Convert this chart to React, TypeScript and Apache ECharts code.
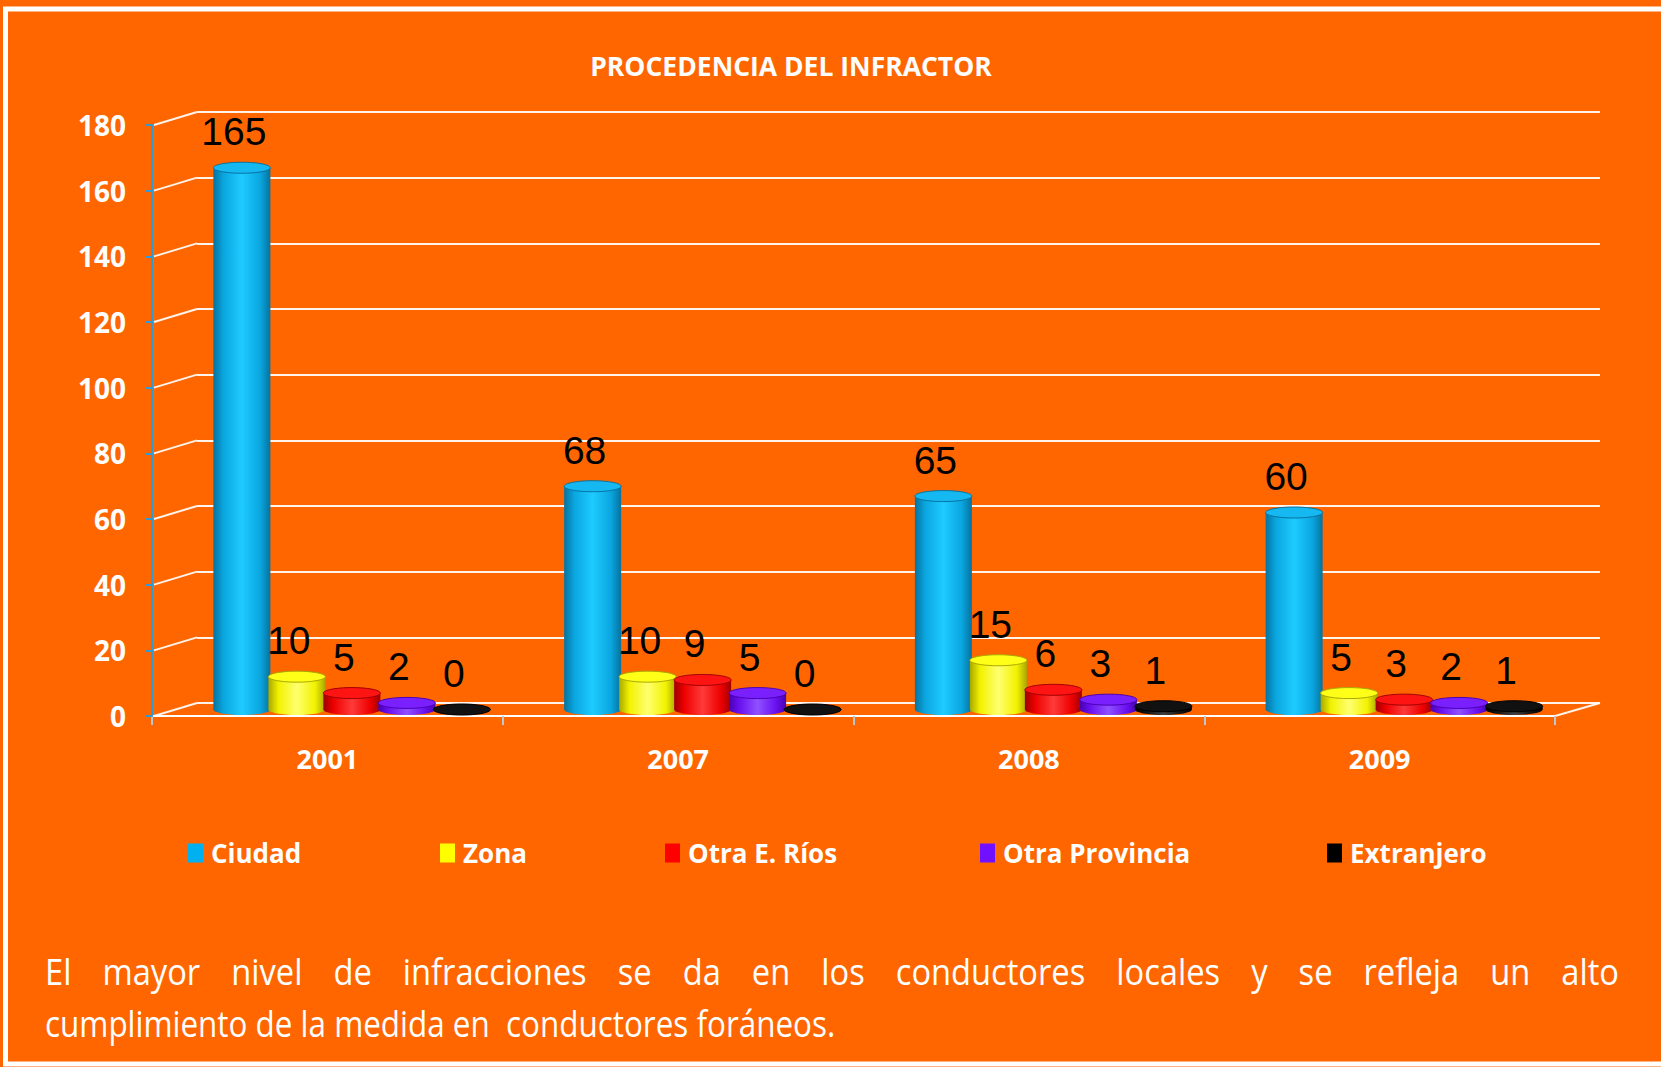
import React, { useEffect, useRef } from 'react';
import * as echarts from 'echarts';

const categories = ['2001', '2007', '2008', '2009'];
const seriesNames = ['Ciudad', 'Zona', 'Otra E. Ríos', 'Otra Provincia', 'Extranjero'];
const ciudad = [165, 68, 65, 60];
const zona = [10, 10, 15, 5];
const otraERios = [5, 9, 6, 3];
const otraProvincia = [2, 5, 3, 2];
const extranjero = [0, 0, 1, 1];
const yTicks = [0, 20, 40, 60, 80, 100, 120, 140, 160, 180];
const titleText = 'PROCEDENCIA DEL INFRACTOR';
const captionLine1 = 'El mayor nivel de infracciones se da en los conductores locales y se refleja un alto';
const captionLine2 = 'cumplimiento de la medida en  conductores foráneos.';

const palettes = [
  { base: '#00B0F0', dark: '#06729e', mid: '#0aa6e0', light: '#1ecbff', top: '#16b8f2' },
  { base: '#FFFF00', dark: '#a8a800', mid: '#f2f200', light: '#ffff70', top: '#ffff18' },
  { base: '#FF0000', dark: '#a00000', mid: '#ee0000', light: '#ff3a3a', top: '#ff1414' },
  { base: '#7010FF', dark: '#4a00b0', mid: '#6a10f0', light: '#9050ff', top: '#7a20ff' },
  { base: '#000000', dark: '#000000', mid: '#101010', light: '#404040', top: '#111111' },
];

const FRONT = { left: 152, top: 125, width: 1403, height: 591 };
const DX = 45;
const DY = -13;
const BAR_W = 57;
const STEP = 55;
const RY = 5.5;
const legendLeft = [188, 440, 665, 980, 1327];

export default function App() {
  const ref = useRef<HTMLDivElement>(null);
  useEffect(() => {
    if (!ref.current) return;
    const chart = echarts.init(ref.current, null, { renderer: 'svg' });
    const seriesValues = [ciudad, zona, otraERios, otraProvincia, extranjero];

    // caption layout via text measurement (narrowed font to mimic Calibri)
    const canvas = document.createElement('canvas');
    const ctx = canvas.getContext('2d')!;
    const capSize = 37;
    ctx.font = `${capSize}px "Open Sans"`;
    const w2 = ctx.measureText(captionLine2.replace(/\s+/g, ' ')).width;
    const sx = 782 / w2;
    const sx1 = sx * 1.04;
    const words = captionLine1.split(' ');
    const widths = words.map((w) => ctx.measureText(w).width * sx1);
    const sum = widths.reduce((a, b) => a + b, 0);
    const x0 = 45;
    const x1 = 1619;
    const gap = (x1 - x0 - sum) / (words.length - 1);
    const captionEls: any[] = [];
    let cx = x0;
    const capStyle = { fill: '#ffffff', fontSize: capSize, fontFamily: 'Open Sans', verticalAlign: 'middle', align: 'left' };
    words.forEach((w, i) => {
      captionEls.push({ type: 'text', x: cx, y: 971, scaleX: sx1, style: { text: w, ...capStyle } });
      cx += widths[i] + gap;
    });
    captionEls.push({ type: 'text', x: x0, y: 1022, scaleX: sx, style: { text: captionLine2, ...capStyle } });

    const grids = [
      { ...FRONT },
      { left: FRONT.left + DX, top: FRONT.top + DY, width: FRONT.width, height: FRONT.height },
      { left: FRONT.left + DX / 2 + 2, top: FRONT.top + DY / 2, width: FRONT.width, height: FRONT.height },
    ];

    const axisFont = { color: '#ffffff', fontWeight: 'bold' as const, fontFamily: 'Open Sans' };

    const xAxis = [
      {
        type: 'category', gridIndex: 0, data: categories,
        axisLine: { show: true, lineStyle: { color: '#ffffff', width: 2 } },
        axisTick: { show: true, length: 9, lineStyle: { color: '#b8c8d4', width: 2 } },
        axisLabel: { ...axisFont, fontSize: 27, margin: 29 },
        splitLine: { show: false },
        z: 3,
      },
      { type: 'category', gridIndex: 1, data: categories, show: false },
      { type: 'category', gridIndex: 2, data: categories, show: false },
    ];
    const yAxis = [
      {
        type: 'value', gridIndex: 0, min: 0, max: 180, interval: 20,
        axisLine: { show: true, lineStyle: { color: '#2e9bd6', width: 2 } },
        axisTick: { show: true, length: 6, lineStyle: { color: '#2e9bd6', width: 2 } },
        axisLabel: { ...axisFont, fontSize: 28, margin: 26 },
        splitLine: { show: false },
        z: 4,
      },
      {
        type: 'value', gridIndex: 1, min: 0, max: 180, interval: 20,
        axisLine: { show: false }, axisTick: { show: false }, axisLabel: { show: false },
        splitLine: { show: true, lineStyle: { color: 'rgba(255,255,255,0.92)', width: 2 } },
      },
      {
        type: 'value', gridIndex: 2, min: 0, max: 180, interval: 20,
        axisLine: { show: false }, axisTick: { show: false }, axisLabel: { show: false }, splitLine: { show: false },
      },
    ];

    const diagSeries = {
      type: 'custom',
      xAxisIndex: 0,
      yAxisIndex: 0,
      silent: true,
      z: 1,
      data: yTicks.map((t) => [0, t]),
      renderItem: (params: any, api: any) => {
        const cs = params.coordSys;
        const v = api.value(1);
        const y = api.coord([0, v])[1];
        const st = { stroke: 'rgba(255,255,255,0.92)', lineWidth: 2 };
        const children: any[] = [
          { type: 'line', shape: { x1: cs.x + 2, y1: y, x2: cs.x + DX, y2: y + DY }, style: st },
        ];
        if (v === 0) {
          children.push({ type: 'line', shape: { x1: cs.x + cs.width, y1: y, x2: cs.x + cs.width + DX, y2: y + DY }, style: st });
        }
        return { type: 'group', children };
      },
    };

    const barSeries = seriesValues.map((vals, i) => {
      const p = palettes[i];
      return {
        type: 'custom',
        name: seriesNames[i],
        xAxisIndex: 2,
        yAxisIndex: 2,
        z: 10 + i,
        itemStyle: { color: p.base },
        data: vals.map((v, j) => [j, v]),
        renderItem: (params: any, api: any) => {
          const c = api.value(0);
          const v = api.value(1);
          const top = api.coord([c, v]);
          const base = api.coord([c, 0]);
          const bx = top[0] + (i - 2) * STEP;
          const grad = new echarts.graphic.LinearGradient(0, 0, 1, 0, [
            { offset: 0, color: p.dark },
            { offset: 0.18, color: p.mid },
            { offset: 0.5, color: p.light },
            { offset: 0.82, color: p.mid },
            { offset: 1, color: p.dark },
          ]);
          return {
            type: 'group',
            children: [
              { type: 'ellipse', shape: { cx: bx, cy: base[1], rx: BAR_W / 2, ry: RY }, style: { fill: grad } },
              { type: 'rect', shape: { x: bx - BAR_W / 2, y: top[1], width: BAR_W, height: Math.max(0, base[1] - top[1]) }, style: { fill: grad } },
              { type: 'ellipse', shape: { cx: bx, cy: top[1], rx: BAR_W / 2, ry: RY }, style: { fill: p.top, stroke: p.dark, lineWidth: 1 } },
              {
                type: 'text',
                style: {
                  text: String(v), x: bx - 8, y: top[1] - 36, fill: '#000000',
                  fontSize: 39, fontFamily: 'Liberation Sans', align: 'center', verticalAlign: 'middle',
                },
              },
            ],
          };
        },
      };
    });

    const legends = seriesNames.map((n, i) => ({
      show: true,
      left: legendLeft[i],
      top: 840,
      padding: 0,
      itemWidth: 15,
      itemHeight: 19,
      itemGap: 0,
      selectedMode: false,
      data: [{ name: n, icon: 'rect' }],
      textStyle: { color: '#ffffff', fontWeight: 'bold', fontSize: 26, fontFamily: 'Open Sans', padding: [0, 0, 0, 3] },
    }));

    chart.setOption({
      animation: false,
      backgroundColor: '#FF6600',
      grid: grids,
      xAxis,
      yAxis,
      legend: legends,
      series: [diagSeries, ...barSeries],
      graphic: [
        { type: 'rect', shape: { x: 5.5, y: 9, width: 1700, height: 1055 }, style: { fill: 'none', stroke: '#ffffff', lineWidth: 5 }, z: 0 },
        {
          type: 'text', x: 791, y: 66,
          style: { text: titleText, fill: '#ffffff', fontSize: 26.5, fontWeight: 'bold', fontFamily: 'Open Sans', align: 'center', verticalAlign: 'middle' },
        },
        ...captionEls,
      ],
    });
    return () => chart.dispose();
  }, []);
  return <div ref={ref} style={{ position: 'absolute', left: 0, top: 0, width: 1661, height: 1067 }} />;
}
